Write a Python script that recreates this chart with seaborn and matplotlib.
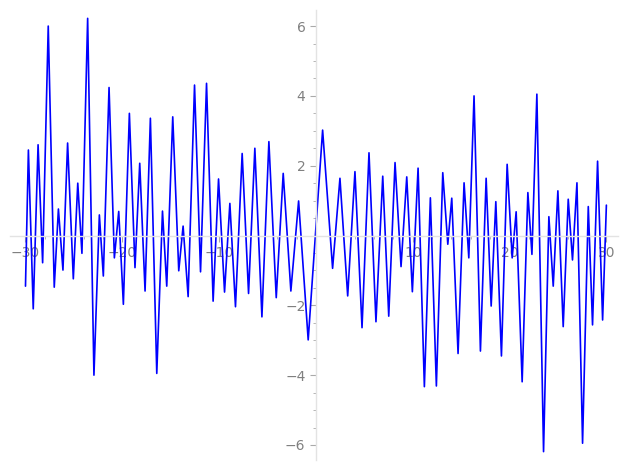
import matplotlib
matplotlib.use("Agg")
import matplotlib.pyplot as plt
import seaborn as sns
import pandas as pd
from matplotlib.ticker import MultipleLocator

# Local extrema of the curve (x, y)
x_vals = [-30.0, -29.7, -29.2, -28.7, -28.23, -27.65, -27.03, -26.6, -26.13, -25.65,
          -25.06, -24.6, -24.17, -23.58, -22.93, -22.37, -21.96, -21.37, -20.82, -20.37,
          -19.89, -19.27, -18.69, -18.2, -17.65, -17.1, -16.44, -15.85, -15.41, -14.79,
          -14.17, -13.72, -13.2, -12.54, -11.92, -11.3, -10.62, -10.06, -9.44, -8.89,
          -8.31, -7.62, -6.96, -6.31, -5.58, -4.86, -4.1, -3.38, -2.59, -1.79,
          -0.8, 0.69, 1.72, 2.48, 3.28, 4.03, 4.76, 5.48, 6.2, 6.9,
          7.52, 8.17, 8.79, 9.38, 9.96, 10.55, 11.2, 11.82, 12.44, 13.1,
          13.62, 14.03, 14.68, 15.3, 15.79, 16.33, 16.99, 17.58, 18.1, 18.58,
          19.16, 19.75, 20.27, 20.68, 21.3, 21.89, 22.31, 22.82, 23.51, 24.06,
          24.51, 24.99, 25.54, 26.06, 26.5, 26.96, 27.54, 28.13, 28.57, 29.09,
          29.61, 30.0]
y_vals = [-1.45, 2.45, -2.1, 2.6, -0.78, 6.0, -1.48, 0.76, -0.99, 2.65,
          -1.24, 1.5, -0.51, 6.22, -4.0, 0.59, -1.16, 4.24, -0.64, 0.69,
          -1.97, 3.5, -0.92, 2.07, -1.59, 3.36, -3.95, 0.70, -1.45, 3.40,
          -1.01, 0.27, -1.75, 4.31, -1.04, 4.36, -1.88, 1.62, -1.62, 0.92,
          -2.04, 2.35, -1.66, 2.5, -2.33, 2.69, -1.78, 1.78, -1.59, 0.99,
          -2.99, 3.02, -0.94, 1.64, -1.73, 1.83, -2.64, 2.37, -2.47, 1.7,
          -2.31, 2.09, -0.89, 1.68, -1.61, 1.93, -4.33, 1.08, -4.31, 1.8,
          -0.25, 1.07, -3.38, 1.51, -0.64, 4.0, -3.31, 1.64, -2.02, 0.97,
          -3.45, 2.04, -0.64, 0.68, -4.19, 1.23, -0.54, 4.05, -6.19, 0.54,
          -1.45, 1.28, -2.61, 1.04, -0.70, 1.51, -5.95, 0.83, -2.56, 2.13,
          -2.42, 0.87]

x_major = [-30, -20, -10, 10, 20, 30]
y_major = [-6, -4, -2, 2, 4, 6]

sns.set_style("white")
plt.rcParams['font.family'] = ['DejaVu Sans']

fig = plt.figure(figsize=(6.27, 4.70), dpi=100)
ax = fig.add_axes([10 / 627, 10 / 470, 608 / 627, 450 / 470])

df = pd.DataFrame({"x": x_vals, "y": y_vals})
sns.lineplot(data=df, x="x", y="y", sort=False, estimator=None,
             color="blue", linewidth=1.2, ax=ax)

ax.set_xlim(-31.6, 31.2)
ax.set_ylim(-6.43, 6.46)
ax.set_xlabel("")
ax.set_ylabel("")

ax.spines['left'].set_position('zero')
ax.spines['bottom'].set_position('zero')
ax.spines['right'].set_visible(False)
ax.spines['top'].set_visible(False)
for s in ('left', 'bottom'):
    ax.spines[s].set_color('#e3e3e3')
    ax.spines[s].set_linewidth(1.0)

ax.set_xticks(x_major)
ax.set_yticks(y_major)
ax.xaxis.set_minor_locator(MultipleLocator(2))
ax.yaxis.set_minor_locator(MultipleLocator(0.5))
ax.tick_params(which='both', direction='out', colors='#aaaaaa', labelcolor='#808080')
ax.tick_params(which='major', length=4, width=0.8, labelsize=10)
ax.tick_params(which='minor', length=2.5, width=0.6)
ax.xaxis.set_ticks_position('bottom')
ax.yaxis.set_ticks_position('left')

fig.savefig("out.png", dpi=100)
